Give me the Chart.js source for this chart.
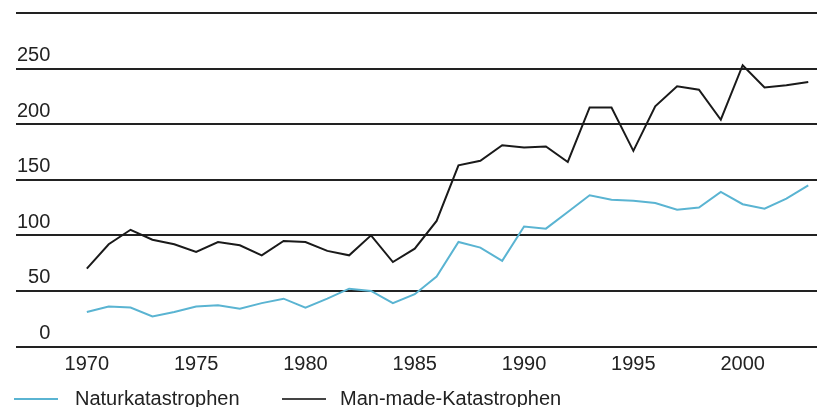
<!DOCTYPE html>
<html>
<head>
<meta charset="utf-8">
<script src="https://cdn.jsdelivr.net/npm/chart.js@4"></script>
<style>
    html, body { margin: 0; padding: 0; background: #fff; overflow: hidden; }
    #wrap { position: relative; width: 817px; height: 407px; }
    .legend-item { position: absolute; font-family: "Liberation Sans", Arial, sans-serif; font-size: 20px; line-height: 24px; color: #222; white-space: nowrap; }
    .legend-line { position: absolute; height: 2px; }
</style>
</head>
<body>
<div id="wrap">
    <canvas id="chart" width="817" height="407"></canvas>
    <div class="legend-line" style="left:14px; top:398px; width:44px; background:#5ab4d2;"></div>
    <div class="legend-item" style="left:75px; top:386px;">Naturkatastrophen</div>
    <div class="legend-line" style="left:282px; top:398px; width:44px; background:#444;"></div>
    <div class="legend-item" style="left:340px; top:386px;">Man-made-Katastrophen</div>
</div>
<script>
const years = [1970, 1971, 1972, 1973, 1974, 1975, 1976, 1977, 1978, 1979,
               1980, 1981, 1982, 1983, 1984, 1985, 1986, 1987, 1988, 1989,
               1990, 1991, 1992, 1993, 1994, 1995, 1996, 1997, 1998, 1999,
               2000, 2001, 2002, 2003];
const naturkatastrophen = [31, 36, 35, 27, 31, 36, 37, 34, 39, 43,
                           35, 43, 52, 50, 39, 47, 63, 94, 89, 77,
                           108, 106, 121, 136, 132, 131, 129, 123, 125, 139,
                           128, 124, 133, 145];
const manMade = [70, 92, 105, 96, 92, 85, 94, 91, 82, 95,
                 94, 86, 82, 100, 76, 88, 113, 163, 167, 181,
                 179, 180, 166, 215, 215, 176, 216, 234, 231, 204,
                 253, 233, 235, 238];
const yearTicks = [1970, 1975, 1980, 1985, 1990, 1995, 2000];

const font = { family: '"Liberation Sans", Arial, sans-serif', size: 20 };

function points(values) {
    return years.map((y, i) => ({ x: y, y: values[i] }));
}

new Chart(document.getElementById('chart'), {
    type: 'line',
    data: {
        datasets: [
            {
                label: 'Naturkatastrophen',
                data: points(naturkatastrophen),
                borderColor: '#5ab4d2',
                borderWidth: 2,
                pointRadius: 0,
                tension: 0
            },
            {
                label: 'Man-made-Katastrophen',
                data: points(manMade),
                borderColor: '#1a1a1a',
                borderWidth: 2,
                pointRadius: 0,
                tension: 0
            }
        ]
    },
    options: {
        responsive: false,
        animation: false,
        layout: { padding: { left: 14, right: 0, top: 11, bottom: 24.5 } },
        plugins: { legend: { display: false }, tooltip: { enabled: false } },
        scales: {
            x: {
                type: 'linear',
                min: 1966.76,
                max: 2003.4,
                afterBuildTicks: axis => { axis.ticks = yearTicks.map(v => ({ value: v })); },
                grid: { display: false, drawTicks: false },
                border: { display: false },
                ticks: {
                    padding: 6,
                    color: '#222',
                    font: font,
                    autoSkip: false,
                    maxRotation: 0,
                    callback: v => String(v)
                }
            },
            y: {
                min: 0,
                max: 300,
                grid: { color: '#222', lineWidth: 2, drawTicks: false },
                border: { display: false },
                ticks: {
                    stepSize: 50,
                    mirror: true,
                    crossAlign: 'far',
                    padding: 1,
                    labelOffset: -13,
                    color: '#222',
                    font: font,
                    callback: v => (v === 300 ? '' : String(v))
                }
            }
        }
    }
});
</script>
</body>
</html>
